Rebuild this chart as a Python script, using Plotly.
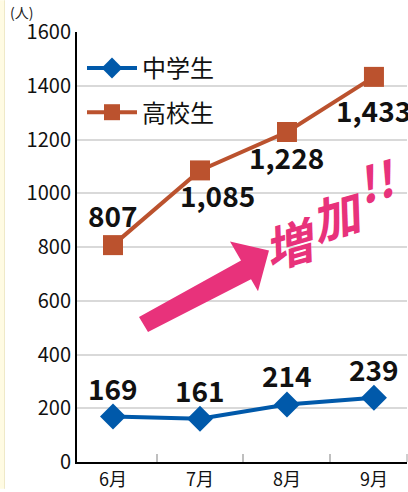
import plotly.graph_objects as go

# ---- data ----
months = ["6月", "7月", "8月", "9月"]
junior = [169, 161, 214, 239]          # 中学生
senior = [807, 1085, 1228, 1433]       # 高校生
y_ticks = [0, 200, 400, 600, 800, 1000, 1200, 1400, 1600]
junior_labels = ["169", "161", "214", "239"]
senior_labels = ["807", "1,085", "1,228", "1,433"]

# ---- geometry helpers (pixel -> paper) ----
W, H = 408, 492
L, R, T, B = 77, 1, 32, 27
PW = W - L - R
PH = H - T - B


def px(x):
    return (x - L) / PW


def py(y):
    return (H - B - y) / PH


BLUE = "#0059aa"
ORANGE = "#bb522e"
PINK = "#e8327b"
FONT = "Noto Sans CJK JP"

fig = go.Figure()
fig.add_trace(go.Scatter(
    x=months, y=junior, name="中学生", mode="lines+markers", legendgroup="a",
    line=dict(color=BLUE, width=4),
    marker=dict(symbol="diamond", size=20, color=BLUE)))
fig.add_trace(go.Scatter(
    x=months, y=senior, name="高校生", mode="lines+markers", legendgroup="b",
    line=dict(color=ORANGE, width=4),
    marker=dict(symbol="square", size=20, color=ORANGE)))

annotations = []
label_font = dict(family=FONT, size=28, color="#111111", weight="bold")
junior_shift = [(0, 29), (0, 29), (0, 29), (0, 29)]
senior_shift = [(0, 30), (18, -25), (0, -25), (0, -33)]
for m, v, t, (dx, dy) in zip(months, junior, junior_labels, junior_shift):
    annotations.append(dict(x=m, y=v, text=t, showarrow=False, xshift=dx, yshift=dy,
                            font=label_font, xref="x", yref="y"))
for m, v, t, (dx, dy) in zip(months, senior, senior_labels, senior_shift):
    annotations.append(dict(x=m, y=v, text=t, showarrow=False, xshift=dx, yshift=dy,
                            font=label_font, xref="x", yref="y"))

# unit label
annotations.append(dict(x=px(21), y=py(12), xref="paper", yref="paper", text="(人)",
                        xanchor="center", yanchor="middle",
                        showarrow=False, font=dict(family=FONT, size=14, color="#222222")))

# 増加!! (stepped, slanted)
zk_font = dict(family=FONT, size=48, color=PINK, weight="bold", style="italic")
for ch, (cx, cy) in zip(["増", "加", "!!"], [(290, 243), (337, 215), (376, 180)]):
    annotations.append(dict(x=px(cx), y=py(cy), xref="paper", yref="paper", text=ch,
                            xanchor="center", yanchor="middle",
                            showarrow=False, textangle=-16, font=zk_font))

# arrow polygon
arrow_pts = [(139, 319), (241, 262), (230, 243), (269, 252), (258, 293), (251, 281), (148, 334)]
path = "M " + " L ".join(f"{px(x):.4f},{py(y):.4f}" for x, y in arrow_pts) + " Z"

shapes = [
    dict(type="path", path=path, xref="paper", yref="paper",
         fillcolor=PINK, line=dict(width=0)),
    dict(type="rect", xref="paper", yref="paper", x0=px(0), x1=px(4), y0=py(492), y1=py(0),
         fillcolor="#fffbe3", line=dict(width=0), layer="below"),
    dict(type="line", xref="paper", yref="paper", x0=px(4.5), x1=px(4.5), y0=py(492), y1=py(0),
         line=dict(color="#efe9c8", width=1), layer="below"),
    dict(type="line", xref="paper", yref="paper", x0=1, x1=1, y0=py(465), y1=py(457),
         line=dict(color="#bfbfbf", width=1.5)),
]

fig.update_layout(
    width=W, height=H,
    margin=dict(l=L, r=R, t=T, b=B, pad=0),
    paper_bgcolor="white", plot_bgcolor="white",
    font=dict(family=FONT, color="#111111"),
    showlegend=True,
    legend=dict(x=px(82), y=py(46), xanchor="left", yanchor="top",
                bgcolor="rgba(0,0,0,0)", font=dict(family=FONT, size=24, color="#111111"),
                itemwidth=50, tracegroupgap=10, traceorder="grouped"),
    annotations=annotations,
    shapes=shapes,
)
fig.update_xaxes(
    type="category", range=[-0.414, 3.38],
    showline=True, linecolor="black", linewidth=2,
    ticks="inside", tickson="boundaries", ticklen=8, tickcolor="#bfbfbf", tickwidth=1.5,
    tickfont=dict(family=FONT, size=18, color="#111111"),
    showgrid=False, zeroline=False,
)
fig.update_yaxes(
    range=[0, 1600], tickvals=y_ticks, ticktext=[str(v) for v in y_ticks],
    showline=True, linecolor="black", linewidth=2,
    showgrid=True, gridcolor="#d9d9d9", gridwidth=1.5,
    zeroline=False, ticks="",
    tickfont=dict(family=FONT, size=20, color="#111111"),
)

fig.write_html("out.html", config={"displayModeBar": False},
               post_script="document.body.style.margin='0';")
